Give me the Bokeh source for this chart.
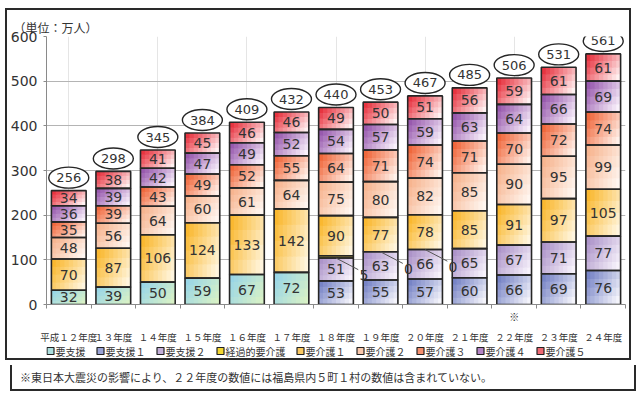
import numpy as np
from bokeh.plotting import figure
from bokeh.models import FixedTicker, Div, Range1d, LinearAxis
from bokeh.layouts import column
from bokeh.embed import file_html
from bokeh.resources import INLINE
from bokeh.core.properties import value

nan = float("nan")

# ---------------- data ----------------
years = ["平成１２年度", "１３年度", "１４年度", "１５年度", "１６年度", "１７年度", "１８年度",
         "１９年度", "２０年度", "２１年度", "２２年度", "２３年度", "２４年度"]
year_notes = ["", "", "", "", "", "", "", "", "", "", "※", "", ""]

youshien = [32, 39, 50, 59, 67, 72, nan, nan, nan, nan, nan, nan, nan]
youshien1 = [nan, nan, nan, nan, nan, nan, 53, 55, 57, 60, 66, 69, 76]
youshien2 = [nan, nan, nan, nan, nan, nan, 51, 63, 66, 65, 67, 71, 77]
keika = [nan, nan, nan, nan, nan, nan, 5, 0, 0, nan, nan, nan, nan]
kaigo1 = [70, 87, 106, 124, 133, 142, 90, 77, 78, 85, 91, 97, 105]
kaigo2 = [48, 56, 64, 60, 61, 64, 75, 80, 82, 85, 90, 95, 99]
kaigo3 = [35, 39, 43, 49, 52, 55, 64, 71, 74, 71, 70, 72, 74]
kaigo4 = [36, 39, 42, 47, 49, 52, 54, 57, 59, 63, 64, 66, 69]
kaigo5 = [34, 38, 41, 45, 46, 46, 49, 50, 51, 56, 59, 61, 61]
totals = [256, 298, 345, 384, 409, 432, 440, 453, 467, 485, 506, 531, 561]

series_names = ["要支援", "要支援１", "要支援２", "経過的要介護", "要介護１",
                "要介護２", "要介護３", "要介護４", "要介護５"]
series_values = [youshien, youshien1, youshien2, keika, kaigo1, kaigo2, kaigo3, kaigo4, kaigo5]
# (strong colour, light colour) for gradient
series_colors = [("#93d3ea", "#d8f1c6"), ("#6a78c0", "#f4f4fb"), ("#a58ac4", "#f7f2fb"),
                 ("#f2d21a", "#f6dc5a"), ("#f9b21e", "#fff5de"), ("#f6ae86", "#fff6f0"),
                 ("#ef5a2a", "#fff1ea"), ("#8e4aa6", "#f9f1fb"), ("#e5202e", "#fff1f1")]

footnote = "※東日本大震災の影響により、２２年度の数値には福島県内５町１村の数値は含まれていない。"
unit_label = "（単位：万人）"

# ---------------- helpers ----------------
def hex2rgb(h):
    h = h.lstrip("#")
    return np.array([int(h[i:i + 2], 16) for i in (0, 2, 4)], dtype=float)

def mix(c0, c1, t):
    a, b = hex2rgb(c0), hex2rgb(c1)
    c = a * (1 - t) + b * t
    return "#%02x%02x%02x" % tuple(int(round(v)) for v in c)

N = len(years)
BW = 0.78
NX, NY = 8, 4
JP = "Noto Sans CJK JP"
NUM = "DejaVu Sans"
W = 622
MBL, MBR = 39, 4

p = figure(width=W, height=316, x_range=Range1d(-0.5, N - 0.5), y_range=Range1d(0, 600),
           output_backend="svg", toolbar_location=None, x_axis_location=None,
           min_border_left=MBL, min_border_right=MBR, min_border_top=26, min_border_bottom=20)
p.outline_line_color = None
p.background_fill_color = "white"

# gradient segments
L, R, B, T, C = [], [], [], [], []
ox, oy, oh, ow = [], [], [], []
lab_x, lab_y, lab_t = [], [], []
cum = np.zeros(N)
keika_base = [nan] * N
for name, vals, (c0, c1) in zip(series_names, series_values, series_colors):
    for i in range(N):
        v = vals[i]
        if v != v:
            continue
        b = cum[i]
        if name == "経過的要介護":
            keika_base[i] = b
        if v > 0:
            for j in range(NY):
                for k in range(NX):
                    u = (k + 0.5) / NX
                    w = (j + 0.5) / NY
                    t = min(1.0, 0.7 * u + 0.4 * (1 - w))
                    left = i - BW / 2 + k * BW / NX
                    right = left + BW / NX * (1.35 if k < NX - 1 else 1.0)
                    bot = b + j * v / NY
                    top = bot + v / NY * (1.35 if j < NY - 1 else 1.0)
                    L.append(left); R.append(right); B.append(bot); T.append(top)
                    C.append(mix(c0, c1, t))
            ox.append(i); oy.append(b + v / 2); oh.append(v); ow.append(BW)
            if name != "経過的要介護":
                lab_x.append(i); lab_y.append(b + v / 2); lab_t.append(str(int(v)))
        cum[i] += v

p.quad(left=L, right=R, bottom=B, top=T, fill_color=C, line_color=None)
p.rect(x=ox, y=oy, width=ow, height=oh, fill_alpha=0, line_color="#262626", line_width=1.6)
p.text(x=lab_x, y=lab_y, text=lab_t, text_font=value(NUM), text_font_size="14px",
       text_color="#333333", text_align="center", text_baseline="middle")

# 経過的要介護 leader lines and labels
kx = [i for i in range(N) if keika[i] == keika[i]]
ky = [keika_base[i] for i in kx]
p.segment(x0=kx, y0=ky, x1=[i + 0.5 for i in kx], y1=[y - 26 for y in ky],
          line_color="#555555", line_width=1)
p.text(x=kx, y=ky, text=[str(int(keika[i])) for i in kx], x_offset=28, y_offset=17,
       text_font=value(NUM), text_font_size="14px", text_color="#333333",
       text_align="center", text_baseline="middle")

# totals in ellipses
ex = list(range(N))
ey = [cum[i] + 29 for i in range(N)]
p.ellipse(x=ex, y=ey, width=40, height=21, width_units="screen", height_units="screen",
          fill_color="white", line_color="#262626", line_width=1.4)
p.text(x=ex, y=ey, text=[str(t) for t in totals], text_font=value(NUM), text_font_size="13px",
       text_color="#333333", text_align="center", text_baseline="middle")

# y axis
p.yaxis.ticker = FixedTicker(ticks=[0, 100, 200, 300, 400, 500, 600])
p.yaxis.major_label_text_font = NUM
p.yaxis.major_label_text_font_size = "14px"
p.yaxis.major_label_text_color = "#333333"
p.yaxis.axis_line_color = "#8a8a8a"
p.yaxis.major_tick_line_color = "#8a8a8a"
p.yaxis.major_tick_out = 3
p.yaxis.major_tick_in = 0
p.yaxis.minor_tick_line_color = None
p.yaxis.major_label_standoff = 6
p.ygrid.grid_line_color = "#b4b4b4"
p.ygrid.grid_line_width = 1.2

# x axis: axis line, boundary ticks and the note mark
note_idx = [i for i, n in enumerate(year_notes) if n]
note_axis = LinearAxis(ticker=FixedTicker(ticks=note_idx, minor_ticks=[i - 0.5 for i in range(N + 1)]),
                       major_label_overrides={i: year_notes[i] for i in note_idx},
                       axis_line_color="#8a8a8a", major_tick_line_color=None, major_tick_out=0,
                       major_tick_in=0, minor_tick_line_color="#8a8a8a", minor_tick_out=4,
                       minor_tick_in=0, major_label_standoff=0,
                       major_label_text_font=JP, major_label_text_font_size="10px",
                       major_label_text_color="#333333")
p.add_layout(note_axis, "below")

# title
p.title.text = unit_label
p.title.text_font = JP
p.title.text_font_size = "12px"
p.title.text_font_style = "normal"
p.title.text_color = "#333333"
p.title.align = "left"
p.title.offset = -33
p.title.standoff = 2

# strip below: year labels as an axis on top (not clipped) + legend in its frame
SH = 32
pl = figure(width=W, height=SH, x_range=p.x_range, y_range=Range1d(0, 1),
            output_backend="svg", toolbar_location=None, x_axis_location=None,
            y_axis_location=None, min_border_left=MBL, min_border_right=MBR,
            min_border_top=0, min_border_bottom=0)
pl.outline_line_color = None
pl.grid.grid_line_color = None
year_axis = LinearAxis(ticker=FixedTicker(ticks=list(range(N))),
                       major_label_overrides={i: years[i] for i in range(N)},
                       axis_line_color=None, major_tick_line_color=None, major_tick_out=0,
                       major_tick_in=0, minor_tick_line_color=None, minor_tick_out=0,
                       minor_tick_in=0, major_label_standoff=0,
                       major_label_text_font=JP, major_label_text_font_size="9.5px",
                       major_label_text_color="#333333")
pl.add_layout(year_axis, "above")

px_per_unit = (W - MBL - MBR) / N
def px2x(px):
    return px / px_per_unit - 0.5

CHAR_W, ITEM_BASE, START = 10, 20, 4
mx, tx = [], []
pos = START
for name in series_names:
    mx.append(px2x(pos))
    tx.append(px2x(pos + 5))
    pos += ITEM_BASE + CHAR_W * len(name)
my = [0.5] * len(series_names)
pl.scatter(x=mx, y=my, marker="square", size=7,
           fill_color=[mix(c0, c1, 0.35) for c0, c1 in series_colors], line_color="#222222",
           line_width=1.2)
pl.text(x=tx, y=my, text=series_names, text_font=value(JP), text_font_size="10px",
        text_color="#333333", text_align="left", text_baseline="middle")

chart = column(p, pl, spacing=0, styles={"border": "2px solid #2a2a2a"})
div = Div(text=footnote, width=W + 4, height=26,
          styles={"border": "2px solid #2a2a2a", "border-top": "none",
                  "font-family": "Noto Sans CJK JP", "font-size": "11px", "color": "#333333",
                  "padding-left": "8px", "line-height": "24px", "box-sizing": "border-box"})

layout = column(chart, div, spacing=0, styles={"margin-left": "5px", "margin-top": "8px"})
open("out.html", "w").write(file_html(layout, INLINE))
